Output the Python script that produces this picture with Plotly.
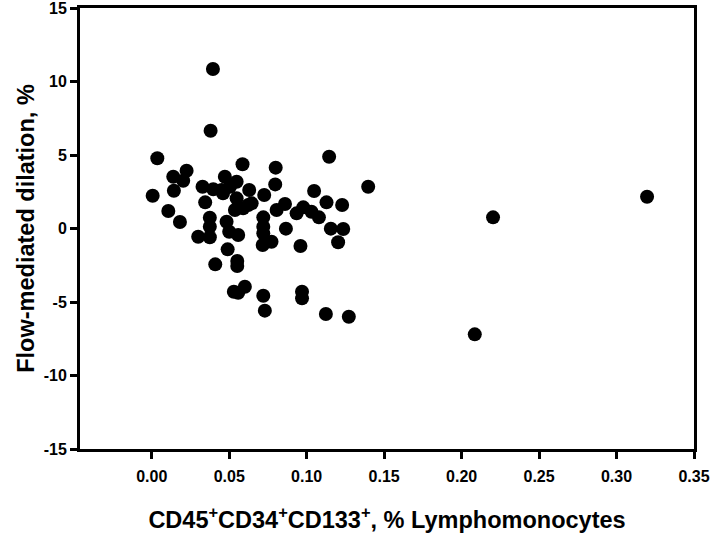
import plotly.graph_objects as go

cd_pct = [0.0006, 0.0036, 0.0107, 0.0139, 0.0143, 0.0182, 0.0203, 0.0225, 0.030, 0.0328,
          0.0345, 0.0375, 0.0375, 0.0375, 0.038, 0.0395, 0.0397, 0.041, 0.0451, 0.046,
          0.0472, 0.0483, 0.049, 0.050, 0.0505, 0.0537, 0.0548, 0.0548, 0.0552, 0.0552,
          0.0558, 0.0558, 0.0530, 0.0586, 0.059, 0.0601, 0.0623, 0.0629, 0.0645, 0.0716,
          0.072, 0.072, 0.072, 0.072, 0.0726, 0.073, 0.0773, 0.0797, 0.0800, 0.0806,
          0.086, 0.0866, 0.0935, 0.096, 0.097, 0.097, 0.0978, 0.1031, 0.1048, 0.1079,
          0.1124, 0.1128, 0.1145, 0.1156, 0.1203, 0.1229, 0.1236, 0.1272, 0.1397, 0.2085,
          0.2203, 0.3197]
fmd = [2.23, 4.78, 1.19, 3.52, 2.57, 0.44, 3.25, 3.93, -0.56, 2.84,
       1.78, 0.73, 0.12, -0.60, 6.65, 10.85, 2.67, -2.44, 2.62, 2.39,
       3.52, 0.46, -1.42, -0.22, 2.84, 1.26, 3.18, 2.05, -2.21, -2.55,
       -0.44, -4.37, -4.30, 4.37, 1.37, -3.96, 1.60, 2.62, 1.71, -1.12,
       0.76, 0.12, -0.33, -4.57, 2.28, -5.59, -0.90, 3.00, 4.14, 1.26,
       1.67, -0.01, 1.03, -1.19, -4.30, -4.75, 1.44, 1.14, 2.55, 0.76,
       -5.82, 1.78, 4.88, -0.01, -0.94, 1.60, -0.03, -6.00, 2.84, -7.20,
       0.76, 2.16]

x_ticks = [0.00, 0.05, 0.10, 0.15, 0.20, 0.25, 0.30, 0.35]
x_tick_text = ["0.00", "0.05", "0.10", "0.15", "0.20", "0.25", "0.30", "0.35"]
y_ticks = [-15, -10, -5, 0, 5, 10, 15]
y_tick_text = ["-15", "-10", "-5", "0", "5", "10", "15"]

font_family = "Liberation Sans, Arial, sans-serif"

fig = go.Figure(go.Scatter(
    x=cd_pct, y=fmd, mode="markers",
    marker=dict(color="black", size=14, line=dict(width=0)),
    hoverinfo="x+y",
))

axis_common = dict(
    showline=True, linecolor="black", linewidth=3, mirror=True,
    ticks="outside", ticklen=7, tickwidth=3, tickcolor="black",
    showgrid=False, zeroline=False, automargin=False,
    ticklabeloverflow="allow",
    tickfont=dict(family=font_family, size=16, color="black", weight="bold"),
)

fig.update_layout(
    width=713, height=533,
    margin=dict(l=80, r=19, t=8, b=84),
    plot_bgcolor="white", paper_bgcolor="white",
    showlegend=False,
    xaxis=dict(
        range=[-0.0463, 0.35],
        tickvals=x_ticks, ticktext=x_tick_text,
        ticklabelstandoff=4,
        title=dict(text="CD45<sup>+</sup>CD34<sup>+</sup>CD133<sup>+</sup>, % Lymphomonocytes",
                   font=dict(family=font_family, size=23.5, color="black", weight="bold"),
                   standoff=28),
        **axis_common,
    ),
    yaxis=dict(
        range=[-15, 15],
        tickvals=y_ticks, ticktext=y_tick_text,
        title=dict(text="Flow-mediated dilation, %",
                   font=dict(family=font_family, size=23.5, color="black", weight="bold"),
                   standoff=3),
        **axis_common,
    ),
)

fig.write_html(
    "out.html",
    config={"displayModeBar": False},
    post_script="document.body.style.margin='0';document.body.style.overflow='hidden';",
)
